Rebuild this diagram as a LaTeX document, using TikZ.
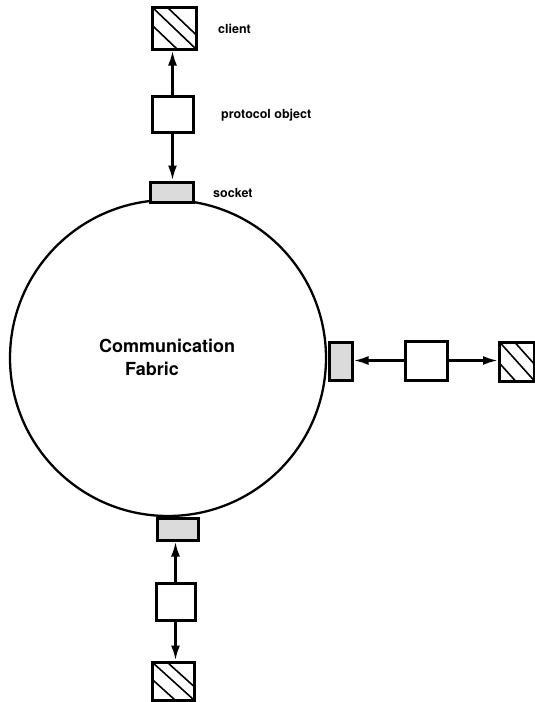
\documentclass[tikz,border=0pt]{standalone}
\usepackage{fontspec}
\setmainfont{TeX Gyre Heros}
\usetikzlibrary{arrows.meta}
\tikzset{
  box/.style={draw, line width=3pt, inner sep=0pt, fill=white},
  clientbox/.style={box, path picture={
      \foreach \d in {-19,0,15}{
        \draw[line width=1.6pt] ([xshift=\d pt]path picture bounding box.north west) -- ([xshift=\d pt]path picture bounding box.south east);
      }}},
  protobox/.style={box},
  sockbox/.style={box, fill=gray!28},
  arr/.style={line width=2.6pt, -{Latex[length=15pt,width=9pt]}},
  lbl/.style={anchor=west, inner sep=0pt, font=\bfseries\fontsize{12.5}{14}\selectfont},
  big/.style={anchor=west, inner sep=0pt, font=\bfseries\fontsize{18}{21}\selectfont}
}
\begin{document}
\begin{tikzpicture}[x=1pt,y=-1pt]
\useasboundingbox (0,0) rectangle (535,702);
% fabric
\node[draw, circle, line width=2.3pt, minimum size=316pt, inner sep=0pt] (fabric) at (168,358) {};
\node[big] (t1) at (99,346) {Communication};
\node[big] (t2) at (125,369) {Fabric};
% top
\node[clientbox, minimum width=44pt, minimum height=42pt] (client1) at (174,28) {};
\node[protobox, minimum width=41pt, minimum height=36pt] (proto1) at (172.5,114) {};
\node[sockbox, minimum width=43pt, minimum height=20pt] (sock1) at (171.5,192) {};
\draw[arr] (proto1.north) -- (proto1.north |- client1.south);
\draw[arr] (proto1.south) -- (proto1.south |- sock1.north);
\node[lbl] (l1) at (218,29) {client};
\node[lbl] (l2) at (221,115) {protocol object};
\node[lbl] (l3) at (213,193) {socket};
% right
\node[sockbox, minimum width=23pt, minimum height=38pt] (sock2) at (340.5,361) {};
\node[protobox, minimum width=42pt, minimum height=39pt] (proto2) at (426,360.5) {};
\node[clientbox, minimum width=35pt, minimum height=39pt] (client2) at (517,361.5) {};
\draw[arr] (proto2.west) -- (proto2.west -| sock2.east);
\draw[arr] (proto2.east) -- (proto2.east -| client2.west);
% bottom
\node[sockbox, minimum width=41pt, minimum height=22pt] (sock3) at (177.5,529) {};
\node[protobox, minimum width=39pt, minimum height=37pt] (proto3) at (175.5,601.5) {};
\node[clientbox, minimum width=42pt, minimum height=38pt] (client3) at (173,681) {};
\draw[arr] (proto3.north) -- (proto3.north |- sock3.south);
\draw[arr] (proto3.south) -- (proto3.south |- client3.north);
\end{tikzpicture}
\end{document}
